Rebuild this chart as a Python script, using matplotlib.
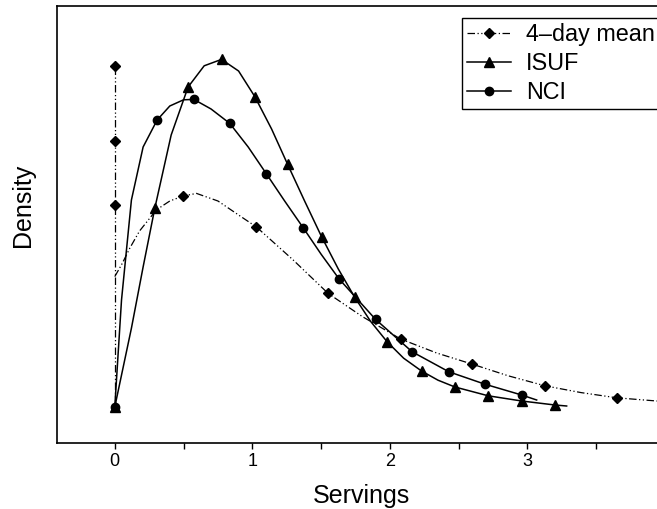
import matplotlib
matplotlib.use("Agg")
import matplotlib.pyplot as plt

plt.rcParams['font.family'] = ['Liberation Sans', 'DejaVu Sans']

# traced curves (servings, density); markers picked by index
mean4_x = [0, 0.056, 0.109, 0.18, 0.303, 0.40, 0.497, 0.594, 0.75, 0.90, 1.03,
           1.297, 1.551, 1.80, 2.078, 2.34, 2.6, 2.86, 3.127, 3.39, 3.649, 3.94, 4.0]
mean4_y = [0.326, 0.36, 0.397, 0.44, 0.493, 0.515, 0.5275, 0.534, 0.515, 0.48, 0.45,
           0.3675, 0.284, 0.226, 0.17, 0.135, 0.107, 0.078, 0.053, 0.036, 0.023, 0.015, 0.014]
mean4_marks = [6, 10, 12, 14, 16, 18, 20]

# point mass at zero for the 4-day mean
spike_x = [0, 0, 0, 0]
spike_y = [0, 0.505, 0.666, 0.853]

isuf_x = [0, 0.121, 0.206, 0.291, 0.41, 0.533, 0.65, 0.776, 0.90, 1.018, 1.14, 1.256,
          1.38, 1.503, 1.625, 1.745, 1.86, 1.98, 2.10, 2.23, 2.35, 2.473, 2.715,
          2.958, 3.2, 3.285]
isuf_y = [0, 0.197, 0.35, 0.497, 0.68, 0.80, 0.853, 0.869, 0.84, 0.776, 0.695, 0.607,
          0.515, 0.426, 0.345, 0.274, 0.214, 0.163, 0.122, 0.09, 0.067, 0.05, 0.028,
          0.015, 0.005, 0.0025]
isuf_marks = [0, 3, 5, 7, 9, 11, 13, 15, 17, 19, 21, 22, 23, 24]

nci_x = [0, 0.049, 0.121, 0.206, 0.308, 0.40, 0.5, 0.575, 0.70, 0.836, 0.97, 1.103,
         1.235, 1.37, 1.50, 1.631, 1.896, 2.162, 2.429, 2.691, 2.958, 3.067]
nci_y = [0, 0.2675, 0.5175, 0.65, 0.7175, 0.7525, 0.768, 0.769, 0.745, 0.709, 0.65,
         0.5825, 0.515, 0.448, 0.382, 0.32, 0.219, 0.138, 0.088, 0.057, 0.03, 0.0175]
nci_marks = [0, 4, 7, 9, 11, 13, 15, 16, 17, 18, 19, 20]

fig = plt.figure(figsize=(6.57, 5.09), dpi=100)
ax = fig.add_axes([57 / 657, 66 / 509, 608 / 657, 437 / 509])

dashdot = (0, (6, 2, 1, 2, 1, 2))
ax.plot(spike_x, spike_y, color='black', lw=0.9, linestyle=dashdot,
        marker='D', markersize=5, markevery=[1, 2, 3])
l1, = ax.plot(mean4_x, mean4_y, color='black', lw=0.9, linestyle=dashdot,
              marker='D', markersize=5, markevery=mean4_marks, label='4\u2013day mean')
l2, = ax.plot(isuf_x, isuf_y, color='black', lw=1.1, marker='^', markersize=6.5,
              markevery=isuf_marks, label='ISUF')
l3, = ax.plot(nci_x, nci_y, color='black', lw=1.1, marker='o', markersize=6,
              markevery=nci_marks, label='NCI')

ax.set_xlim(-0.42, 4.0)
ax.set_ylim(-0.09, 1.0025)
ax.set_xticks([0, 1, 2, 3])
ax.set_xticks([0.5, 1.5, 2.5, 3.5], minor=True)
ax.set_yticks([])
ax.tick_params(axis='x', which='both', direction='out', length=4, width=1,
               labelsize=13, pad=3)
for s in ax.spines.values():
    s.set_linewidth(1.2)

fig.text(23 / 657, 1 - 205 / 509, 'Density', rotation=90, ha='center', va='center',
         fontsize=18)
fig.text(361 / 657, 1 - 496 / 509, 'Servings', ha='center', va='center', fontsize=18)

leg = ax.legend(handles=[l1, l2, l3], loc='upper left',
                bbox_to_anchor=(0.666, 0.9725), fontsize=16.8, numpoints=1,
                fancybox=False, framealpha=1, edgecolor='black', borderaxespad=0,
                borderpad=0.22, handlelength=1.9, handletextpad=0.62,
                labelspacing=0.25)
leg.get_frame().set_linewidth(1.0)

fig.savefig('out.png', dpi=100)
